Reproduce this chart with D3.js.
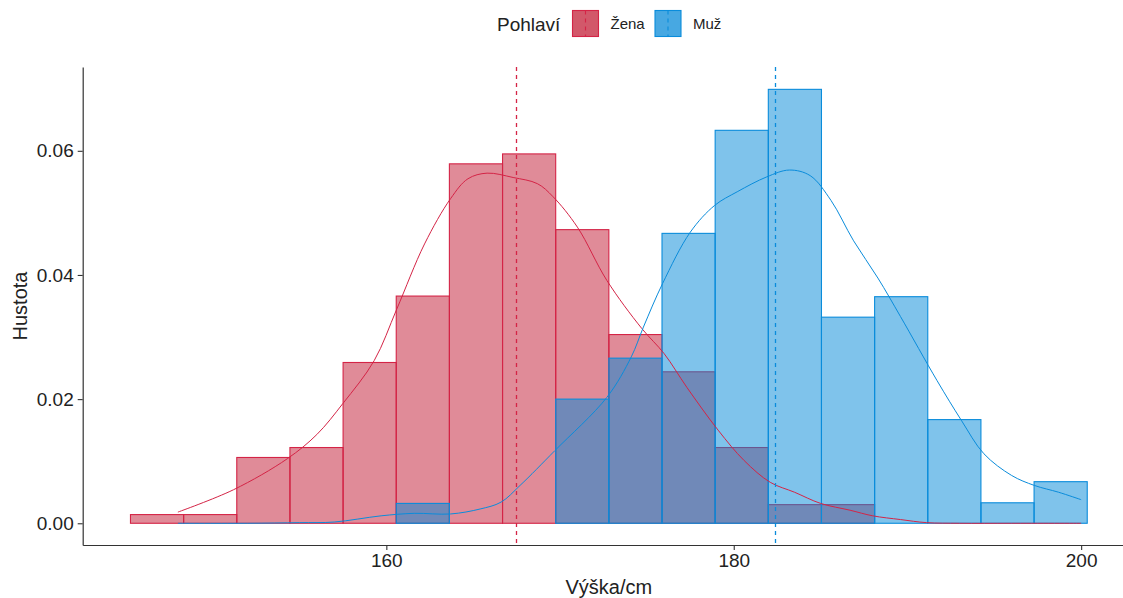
<!DOCTYPE html>
<html>
<head>
<meta charset="utf-8">
<script src="https://cdn.jsdelivr.net/npm/d3@7"></script>
<style>
  body { margin: 0; background: #fff; }
  svg text { font-family: "Liberation Sans", Arial, sans-serif; }
</style>
</head>
<body>
<svg id="chart" width="1123" height="598"></svg>
<script>
// --- Données ---
const groups = ["Žena", "Muž"];
const colors = ["#C11731", "#0087D7"];
const lineColors = ["#D42446", "#0A8CDB"];

// histogram: 18 bins
const binStart = 145.27;
const binWidth = 3.06;
const densityZena = [0.0014, 0.0014, 0.0106, 0.0122, 0.0259, 0.0366, 0.0579, 0.0595, 0.0473,
    0.0304, 0.0244, 0.0122, 0.0030, 0.0030, 0, 0, 0, 0];
const densityMuz = [0, 0, 0, 0, 0, 0.0032, 0, 0, 0.0200,
    0.0266, 0.0467, 0.0633, 0.0699, 0.0332, 0.0365, 0.0167, 0.0033, 0.0067];

// kernel density curves (x, density)
const curveZena = [
    [148.0, 0.0018], [151.2, 0.0054], [154.3, 0.0104], [156.0, 0.0143], [157.5, 0.0193],
    [159.3, 0.0262], [160.6, 0.0345], [162.2, 0.0450], [163.7, 0.0523], [164.7, 0.0555],
    [165.8, 0.0564], [167.3, 0.0557], [168.7, 0.0547], [169.6, 0.0526], [171.0, 0.0477],
    [172.7, 0.0391], [174.7, 0.0314], [176.0, 0.0273], [177.3, 0.0219], [179.1, 0.0150],
    [180.6, 0.0101], [182.1, 0.0066], [183.5, 0.0050], [185.0, 0.0032], [186.7, 0.0021],
    [188.0, 0.0012], [189.6, 0.0006], [191.1, 0.0001], [193.0, 0], [196.0, 0], [200.0, 0]
];
const curveMuz = [
    [148.0, 0], [152.0, 0], [155.0, 0.0001], [157.0, 0.0002], [159.7, 0.0012],
    [161.6, 0.0016], [163.7, 0.0015], [165.4, 0.0023], [166.6, 0.0034], [167.7, 0.0061],
    [169.7, 0.0117], [172.7, 0.0203], [174.1, 0.0268], [174.8, 0.0316], [175.9, 0.0386],
    [177.5, 0.0469], [178.9, 0.0512], [180.2, 0.0534], [181.9, 0.0558], [183.2, 0.0569],
    [184.4, 0.0560], [185.6, 0.0520], [186.9, 0.0455], [188.3, 0.0395], [189.6, 0.0333],
    [191.7, 0.0230], [193.1, 0.0166], [194.4, 0.0112], [196.0, 0.0077], [197.3, 0.0061],
    [198.7, 0.0050], [200.0, 0.0038]
];

const means = [167.44, 182.38];

const xTicks = [160, 180, 200];
const yTicks = [0, 0.02, 0.04, 0.06];

// --- Échelles ---
const svg = d3.select("#chart");
const panel = {left: 82.7, right: 1135, top: 67, bottom: 545};

const x = d3.scaleLinear().domain([142.52, 203.1]).range([panel.left, panel.right]);
const y = d3.scaleLinear().domain([-0.0035, 0.0735]).range([panel.bottom, panel.top]);

const histData = [densityZena, densityMuz];

// histograms (Žena first, Muž on top)
histData.forEach((vals, gi) => {
    svg.append("g")
        .selectAll("rect")
        .data(vals)
        .join("rect")
        .attr("x", (d, i) => x(binStart + i * binWidth))
        .attr("width", (d, i) => x(binStart + (i + 1) * binWidth) - x(binStart + i * binWidth))
        .attr("y", d => y(d))
        .attr("height", d => y(0) - y(d))
        .attr("fill", colors[gi])
        .attr("fill-opacity", 0.5)
        .attr("stroke", lineColors[gi])
        .attr("stroke-width", 1.1);
});

// density lines
const line = d3.line()
    .x(d => x(d[0]))
    .y(d => y(d[1]))
    .curve(d3.curveCatmullRom);

[curveZena, curveMuz].forEach((pts, gi) => {
    svg.append("path")
        .datum(pts)
        .attr("d", line)
        .attr("fill", "none")
        .attr("stroke", lineColors[gi])
        .attr("stroke-width", 1);
});

// mean lines (snapped to the pixel grid so they stay crisp)
svg.append("g")
    .selectAll("line")
    .data(means)
    .join("line")
    .attr("x1", d => Math.round(x(d)) + 0.5).attr("x2", d => Math.round(x(d)) + 0.5)
    .attr("y1", panel.top).attr("y2", panel.bottom)
    .attr("stroke", (d, i) => lineColors[i])
    .attr("stroke-width", 1.3)
    .attr("stroke-dasharray", "4,4");

// --- Axes ---
const xAxis = svg.append("g")
    .attr("transform", `translate(0,${panel.bottom})`)
    .call(d3.axisBottom(x).tickValues(xTicks).tickSize(5).tickPadding(4).tickSizeOuter(0));
const yAxis = svg.append("g")
    .attr("transform", `translate(${panel.left},0)`)
    .call(d3.axisLeft(y).tickValues(yTicks).tickFormat(d3.format(".2f")).tickSize(5).tickPadding(4).tickSizeOuter(0));

[xAxis, yAxis].forEach(a => {
    a.select(".domain").attr("stroke", "#333").attr("stroke-width", 1.2);
    a.selectAll(".tick line").attr("stroke", "#333").attr("stroke-width", 1.1);
    a.selectAll(".tick text").attr("fill", "#222").style("font-size", "19px");
});

svg.append("text")
    .attr("x", (panel.left + panel.right) / 2)
    .attr("y", 594)
    .attr("text-anchor", "middle")
    .style("font-size", "20px")
    .attr("fill", "#222")
    .text("Výška/cm");

svg.append("text")
    .attr("transform", `translate(27,${(panel.top + panel.bottom) / 2}) rotate(-90)`)
    .attr("text-anchor", "middle")
    .style("font-size", "20px")
    .attr("fill", "#222")
    .text("Hustota");

// --- Légende ---
const legend = svg.append("g");
legend.append("text")
    .attr("x", 497).attr("y", 30.5)
    .style("font-size", "19px")
    .attr("fill", "#222")
    .text("Pohlaví");

const keyX = [572.5, 655];
groups.forEach((g, i) => {
    legend.append("rect")
        .attr("x", keyX[i]).attr("y", 10.5)
        .attr("width", 26).attr("height", 26)
        .attr("fill", colors[i]).attr("fill-opacity", 0.72)
        .attr("stroke", lineColors[i]).attr("stroke-width", 1.1);
    legend.append("line")
        .attr("x1", keyX[i] + 13).attr("x2", keyX[i] + 13)
        .attr("y1", 10.5).attr("y2", 36.5)
        .attr("stroke", lineColors[i]).attr("stroke-width", 1.1)
        .attr("stroke-dasharray", "4,4");
    legend.append("text")
        .attr("x", keyX[i] + 38).attr("y", 29)
        .style("font-size", "15px")
        .attr("fill", "#222")
        .text(g);
});
</script>
</body>
</html>
